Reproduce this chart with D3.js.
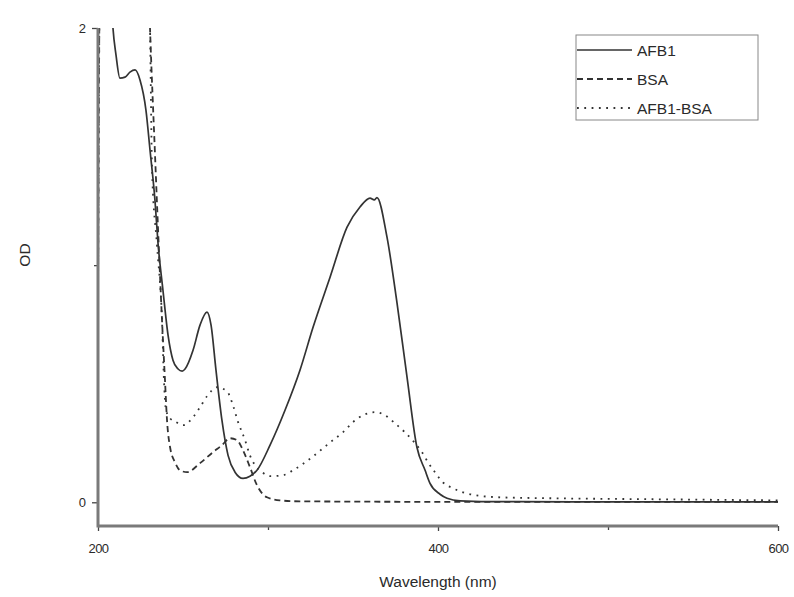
<!DOCTYPE html>
<html>
<head>
<meta charset="utf-8">
<script src="https://cdn.jsdelivr.net/npm/d3@7"></script>
<style>
  html, body { margin: 0; padding: 0; background: #fff; }
  svg { display: block; font-family: "Liberation Sans", Arial, sans-serif; }
</style>
</head>
<body>
<svg id="chart" width="794" height="597"></svg>
<script>
// UV-Vis absorption spectra (wavelength in nm, optical density)
const seriesNames = ["AFB1", "BSA", "AFB1-BSA"];

const afb1Wl = [206, 208.8, 210.6, 212.9, 215.9, 218.8, 221.8, 224.7, 228.2, 230.6, 233.5, 235.3, 238.2, 241.2, 244.1, 247.1, 249.5, 251.2, 255.9, 260, 264.1, 266.5, 269.4, 272.9, 276.5, 280.6, 285.3, 289.4, 293.5, 301.2, 310, 318.8, 326.5, 336.5, 346.5, 354.1, 360, 362.5, 364.1, 370, 375.9, 381.8, 387.6, 392.4, 395.3, 401.2, 405.3, 413, 430, 480, 540, 600];
const afb1Od = [2.45, 2.0, 1.886, 1.789, 1.793, 1.814, 1.823, 1.781, 1.654, 1.485, 1.274, 1.093, 0.895, 0.705, 0.599, 0.562, 0.553, 0.562, 0.641, 0.747, 0.802, 0.747, 0.557, 0.346, 0.198, 0.127, 0.101, 0.110, 0.135, 0.241, 0.388, 0.557, 0.738, 0.949, 1.16, 1.245, 1.283, 1.275, 1.285, 1.118, 0.840, 0.527, 0.232, 0.135, 0.080, 0.034, 0.017, 0.006, 0.003, 0.002, 0.002, 0.002];

const bsaWl = [200, 201.5, 215, 228.5, 230.6, 233.5, 237.6, 239.4, 240.6, 242.4, 245.3, 248.2, 252.4, 260, 267.6, 272.9, 277.6, 281.8, 285.3, 289.4, 293.5, 299.4, 307, 318.8, 400, 500, 600];
const bsaOd = [0.88, 2.5, 2.6, 2.5, 2.0, 1.473, 0.776, 0.515, 0.346, 0.232, 0.169, 0.135, 0.127, 0.165, 0.211, 0.241, 0.270, 0.262, 0.219, 0.148, 0.072, 0.021, 0.008, 0.004, 0.002, 0.002, 0.002];

const afb1BsaWl = [200, 201.5, 215, 228.5, 230.6, 231.8, 234.7, 237.6, 238.8, 240, 242.4, 245.9, 250, 255.9, 260, 264.1, 270, 275.9, 278.8, 282.4, 286.5, 289.4, 292.4, 296.5, 301.2, 308.8, 314.7, 325.9, 332.4, 338.2, 344.1, 350, 355.9, 362.9, 368.8, 374.7, 380.6, 386.5, 390.6, 394.1, 398.2, 402.9, 408.8, 414.7, 421.8, 436.5, 465.9, 524.7, 600];
const afb1BsaOd = [0.85, 2.5, 2.6, 2.5, 2.0, 1.40, 1.084, 0.776, 0.515, 0.388, 0.354, 0.338, 0.325, 0.359, 0.401, 0.447, 0.485, 0.468, 0.422, 0.338, 0.262, 0.198, 0.156, 0.127, 0.110, 0.114, 0.135, 0.190, 0.228, 0.262, 0.295, 0.338, 0.367, 0.380, 0.367, 0.333, 0.295, 0.249, 0.211, 0.169, 0.127, 0.084, 0.059, 0.042, 0.030, 0.021, 0.017, 0.013, 0.008];

const xMajorTicks = [200, 400, 600];
const xMinorTicks = [300, 500];
const yMajorTicks = [0, 2];
const yMinorTicks = [1];

const svg = d3.select("#chart");
const plotLeft = 98, plotRight = 778, plotTop = 28, plotBottom = 526;

const x = d3.scaleLinear().domain([200, 600]).range([plotLeft, plotRight]);
const y = d3.scaleLinear().domain([-0.1, 2]).range([plotBottom, plotTop]);

svg.append("defs").append("clipPath").attr("id", "plotClip")
  .append("rect").attr("x", plotLeft).attr("y", plotTop)
  .attr("width", plotRight - plotLeft).attr("height", plotBottom - plotTop);

const lineGen = d3.line()
  .x(d => x(d[0]))
  .y(d => y(d[1]))
  .curve(d3.curveMonotoneX);

const series = [
  { name: seriesNames[0], wl: afb1Wl, od: afb1Od, dash: null, width: 1.7 },
  { name: seriesNames[1], wl: bsaWl, od: bsaOd, dash: "6,4", width: 1.8 },
  { name: seriesNames[2], wl: afb1BsaWl, od: afb1BsaOd, dash: "1.8,5.5", width: 1.8 }
];

const plot = svg.append("g").attr("clip-path", "url(#plotClip)");
series.forEach(s => {
  const pts = s.wl.map((w, i) => [w, s.od[i]]);
  plot.append("path")
    .datum(pts)
    .attr("d", lineGen)
    .attr("fill", "none")
    .attr("stroke", "#333")
    .attr("stroke-width", s.width)
    .attr("stroke-dasharray", s.dash);
});

// Axes
const axisColor = "#7a7a7a";
const xAxis = svg.append("g").attr("transform", `translate(0,${plotBottom})`)
  .call(d3.axisBottom(x).tickValues(xMajorTicks).tickSize(5).tickFormat(d3.format("d")));
const xAxisMinor = svg.append("g").attr("transform", `translate(0,${plotBottom})`)
  .call(d3.axisBottom(x).tickValues(xMinorTicks).tickSize(4).tickFormat(""));
const yAxis = svg.append("g").attr("transform", `translate(${plotLeft},0)`)
  .call(d3.axisLeft(y).tickValues(yMajorTicks).tickSize(6).tickFormat(d3.format("d")));
const yAxisMinor = svg.append("g").attr("transform", `translate(${plotLeft},0)`)
  .call(d3.axisLeft(y).tickValues(yMinorTicks).tickSize(4).tickFormat(""));

[xAxis, xAxisMinor, yAxis, yAxisMinor].forEach(g => {
  g.select(".domain").remove();
  g.selectAll(".tick line").attr("stroke", "#444").attr("stroke-width", 1.3);
  g.selectAll(".tick text").attr("fill", "#2a2a2a").attr("font-size", 13)
    .attr("font-family", "\"Liberation Sans\", Arial, sans-serif");
});
xAxis.selectAll(".tick text").attr("y", 18).attr("dy", "0.71em").attr("letter-spacing", "-0.6");
yAxis.selectAll(".tick text").attr("dx", "-3").attr("dy", "0.34em");

svg.append("line").attr("x1", plotLeft).attr("x2", plotRight).attr("y1", plotBottom).attr("y2", plotBottom)
  .attr("stroke", axisColor).attr("stroke-width", 3);
svg.append("line").attr("x1", plotLeft).attr("x2", plotLeft).attr("y1", plotTop).attr("y2", plotBottom + 1.5)
  .attr("stroke", axisColor).attr("stroke-width", 3);

// Axis titles
svg.append("text")
  .attr("x", (plotLeft + plotRight) / 2).attr("y", 587)
  .attr("text-anchor", "middle").attr("font-size", 15.5).attr("fill", "#2a2a2a")
  .text("Wavelength (nm)");
svg.append("text")
  .attr("transform", "translate(30,255) rotate(-90)")
  .attr("text-anchor", "middle").attr("font-size", 15.5).attr("fill", "#2a2a2a")
  .text("OD");

// Legend
const legend = svg.append("g");
legend.append("rect")
  .attr("x", 576).attr("y", 35).attr("width", 182).attr("height", 85)
  .attr("fill", "none").attr("stroke", "#888").attr("stroke-width", 1);
series.forEach((s, i) => {
  const ly = 50 + i * 29;
  legend.append("line")
    .attr("x1", 577).attr("x2", 632).attr("y1", ly).attr("y2", ly)
    .attr("stroke", "#333").attr("stroke-width", s.width)
    .attr("stroke-dasharray", s.dash);
  legend.append("text")
    .attr("x", 637).attr("y", ly).attr("dy", "0.36em")
    .attr("font-size", 15.5).attr("fill", "#2a2a2a")
    .text(s.name);
});
</script>
</body>
</html>
